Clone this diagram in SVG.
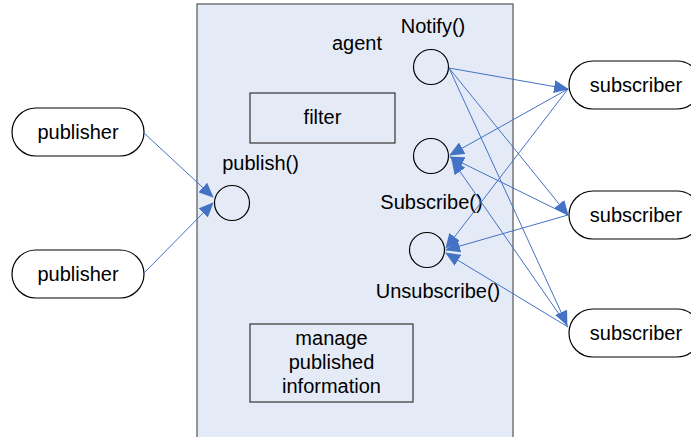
<svg xmlns="http://www.w3.org/2000/svg" width="691" height="437" viewBox="0 0 691 437">
  <style>
    .lbl { font-family: "Liberation Sans", Arial, sans-serif; font-size: 20px; fill: #000; text-anchor: middle; }
    .term { fill: #fff; stroke: #000; stroke-width: 1.2; }
    .port { fill: none; stroke: #000; stroke-width: 1.2; }
    .box { fill: none; stroke: #333; stroke-width: 1.2; }
    .conn { stroke: #4472C4; stroke-width: 1; fill: none; marker-end: url(#arrow); }
  </style>
  <defs>
    <marker id="arrow" markerUnits="userSpaceOnUse" markerWidth="15" markerHeight="13" viewBox="0 0 15 13" refX="14" refY="6.5" orient="auto">
      <path d="M0,0 L15,6.5 L0,13 Z" fill="#4472C4"/>
    </marker>
  </defs>

  <!-- agent container -->
  <g id="agent">
    <rect x="197" y="4" width="316" height="440" fill="#E5EBF6" stroke="#555" stroke-width="1.2"/>
    <text class="lbl" x="357" y="50">agent</text>
  </g>

  <g id="filter">
    <rect class="box" x="250" y="93" width="145" height="50"/>
    <text class="lbl" x="322.5" y="124">filter</text>
  </g>

  <g id="manage">
    <rect class="box" x="250" y="324" width="163" height="78"/>
    <text class="lbl" x="331.5" y="345">manage</text>
    <text class="lbl" x="331.5" y="369">published</text>
    <text class="lbl" x="331.5" y="393">information</text>
  </g>

  <g id="publish">
    <circle class="port" cx="232" cy="203" r="17.5"/>
    <text class="lbl" x="260.5" y="170">publish()</text>
  </g>

  <g id="notify">
    <circle class="port" cx="431" cy="67" r="17.5"/>
    <text class="lbl" x="433" y="33">Notify()</text>
  </g>

  <g id="subscribe">
    <circle class="port" cx="431" cy="156" r="17.5"/>
    <text class="lbl" x="431.5" y="209">Subscribe()</text>
  </g>

  <g id="unsubscribe">
    <circle class="port" cx="427" cy="250" r="17.5"/>
    <text class="lbl" x="438" y="298">Unsubscribe()</text>
  </g>

  <g id="publisher1">
    <rect class="term" x="12" y="108" width="132" height="48" rx="24"/>
    <text class="lbl" x="78" y="139">publisher</text>
  </g>
  <g id="publisher2">
    <rect class="term" x="12" y="250" width="132" height="48" rx="24"/>
    <text class="lbl" x="78" y="281">publisher</text>
  </g>

  <g id="subscriber1">
    <rect class="term" x="569" y="61" width="132" height="48" rx="24"/>
    <text class="lbl" x="636" y="92">subscriber</text>
  </g>
  <g id="subscriber2">
    <rect class="term" x="569" y="191" width="132" height="48" rx="24"/>
    <text class="lbl" x="636" y="222">subscriber</text>
  </g>
  <g id="subscriber3">
    <rect class="term" x="569" y="309" width="132" height="48" rx="24"/>
    <text class="lbl" x="636" y="340">subscriber</text>
  </g>

  <g id="connectors">
    <line class="conn" x1="144" y1="133" x2="213" y2="197"/>
    <line class="conn" x1="144" y1="273" x2="213" y2="203"/>

    <line class="conn" x1="449" y1="68" x2="568" y2="89"/>
    <line class="conn" x1="449" y1="68" x2="568" y2="215"/>
    <line class="conn" x1="449" y1="68" x2="567" y2="325"/>

    <line class="conn" x1="568" y1="89" x2="450" y2="155"/>
    <line class="conn" x1="568" y1="215" x2="450" y2="157"/>
    <line class="conn" x1="568" y1="327" x2="452" y2="160"/>

    <line class="conn" x1="568" y1="89" x2="446" y2="248"/>
    <line class="conn" x1="568" y1="215" x2="446" y2="250"/>
    <line class="conn" x1="568" y1="327" x2="446" y2="253"/>
  </g>
</svg>
